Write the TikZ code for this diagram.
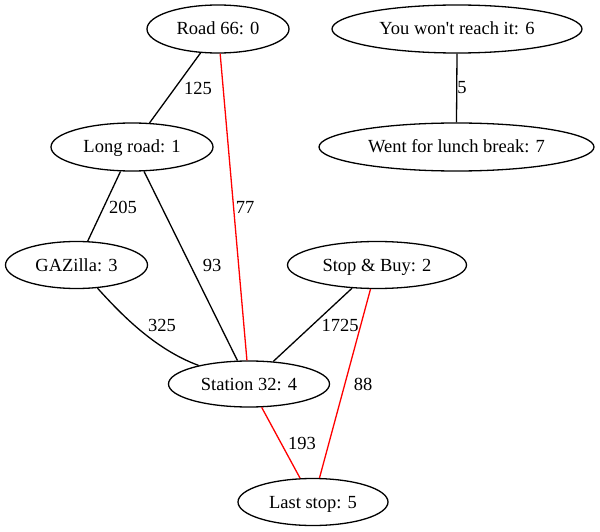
\documentclass[tikz,border=0pt]{standalone}
\usepackage{fontspec}
\setmainfont{Liberation Serif}
\usetikzlibrary{shapes.geometric}
\begin{document}
\begin{tikzpicture}[x=1pt,y=-1pt,
  vert/.style={ellipse,draw,line width=1.3pt,inner sep=0pt,text height=12pt,text depth=0pt,font=\fontsize{18.5}{22}\selectfont},
  edge/.style={line width=1.3pt},
  redge/.style={line width=1.3pt,draw=red},
  lbl/.style={inner sep=0pt,font=\fontsize{18.5}{22}\selectfont}]
\useasboundingbox (0,0) rectangle (600,532);
\node[vert,minimum width=142pt,minimum height=48pt] (r66) at (218,29) {Road 66: 0};
\node[vert,minimum width=250pt,minimum height=48pt] (won) at (457,29) {You won\textquotesingle t reach it: 6};
\node[vert,minimum width=162pt,minimum height=48pt] (lr) at (132,147) {Long road: 1};
\node[vert,minimum width=275pt,minimum height=48pt] (lun) at (456.5,147) {Went for lunch break: 7};
\node[vert,minimum width=142pt,minimum height=47pt] (gaz) at (76.5,265) {GAZilla: 3};
\node[vert,minimum width=179pt,minimum height=47pt] (sb) at (377,265) {Stop \& Buy: 2};
\node[vert,minimum width=161pt,minimum height=46pt] (st) at (249,384) {Station 32: 4};
\node[vert,minimum width=150pt,minimum height=47pt] (ls) at (313,502) {Last stop: 5};

\draw[edge] (r66) -- (lr);
\draw[redge] (r66) -- (st);
\draw[edge] (won.south) -- (lun.north);
\draw[edge] (lr) -- (gaz);
\draw[edge] (lr) -- (st);
\draw[edge] (gaz) .. controls (120,313) and (154,349) .. (st);
\draw[edge] (sb) -- (st);
\draw[redge] (sb) -- (ls);
\draw[redge] (st) -- (ls);

\node[lbl] (l125) at (198,88) {125};
\node[lbl] (l77) at (245,207) {77};
\node[lbl] (l5) at (462,88) {5};
\node[lbl] (l205) at (123,207) {205};
\node[lbl] (l93) at (212,265) {93};
\node[lbl] (l325) at (162,325) {325};
\node[lbl] (l1725) at (340,325) {1725};
\node[lbl] (l88) at (363,384) {88};
\node[lbl] (l193) at (302,443) {193};
\end{tikzpicture}
\end{document}
